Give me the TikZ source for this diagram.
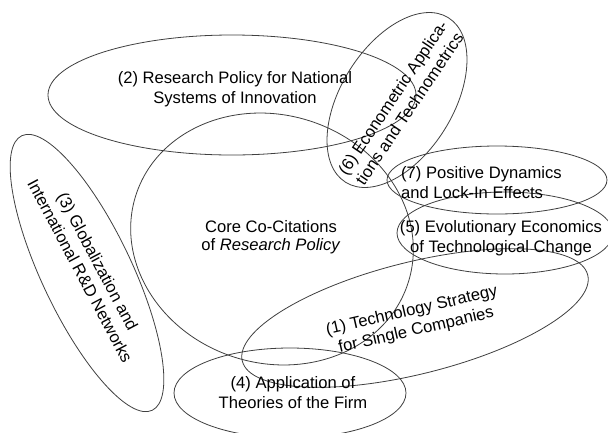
\documentclass[tikz,border=0pt]{standalone}
\usepackage{fontspec}
\setmainfont{Liberation Sans}
\begin{document}
\begin{tikzpicture}[x=1pt,y=-1pt,
  ring/.style={draw=black!75,line width=0.8pt},
  lbl/.style={inner sep=0pt,align=center,font=\fontsize{16.6}{20}\selectfont,text=black}]
\useasboundingbox[fill=white] (0,0) rectangle (608,432);
% ellipses
\draw[ring] (232,95) ellipse [x radius=184pt, y radius=60pt];
\draw[ring,rotate around={-18:(272,239)}] (272,239) ellipse [x radius=143pt, y radius=124pt];
\draw[ring,rotate around={-64.6:(87,273)}] (87,273) ellipse [x radius=152pt, y radius=45pt];
\draw[ring,rotate around={58:(397,100)}] (397,100) ellipse [x radius=97pt, y radius=56pt];
\draw[ring] (497,180) ellipse [x radius=110pt, y radius=34pt];
\draw[ring] (505,233) ellipse [x radius=108pt, y radius=41pt];
\draw[ring,rotate around={14:(415,318)}] (415,318) ellipse [x radius=178pt, y radius=56pt];
\draw[ring] (290,393) ellipse [x radius=116pt, y radius=45pt];
% labels
\node[lbl,font=\fontsize{16.6}{18.5}\selectfont] (core) at (271,237) {Core Co-Citations\\of \textit{Research Policy}};
\node[lbl] (c2) at (235,89) {(2) Research Policy for National\\Systems of Innovation};
\node[lbl,rotate=-62] (c3) at (89,266) {(3) Globalization and\\International R\&D Networks};
\node[lbl,rotate=56] (c6) at (401,103) {(6) Econometric Applica-\\tions and Technometrics};
\node[lbl,align=left,anchor=west] (c7) at (401,183) {(7) Positive Dynamics\\and Lock-In Effects};
\node[lbl] (c5) at (501,238) {(5) Evolutionary Economics\\of Technological Change};
\node[lbl,rotate=13] (c1) at (414,321) {(1) Technology Strategy\\for Single Companies};
\node[lbl] (c4) at (293,393) {(4) Application of\\Theories of the Firm};
\end{tikzpicture}
\end{document}
